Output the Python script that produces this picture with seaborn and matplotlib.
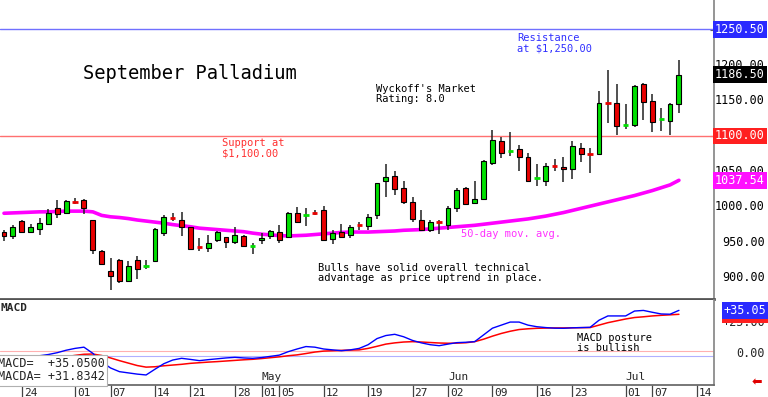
import matplotlib
matplotlib.use("Agg")
import matplotlib.pyplot as plt
import matplotlib.transforms as mtransforms
import pandas as pd
import seaborn as sns

# daily candles, Mar 20 .. Jul 10 (trading days only)
opens = [965, 959, 980, 965, 969, 976, 998, 991, 1008, 1010,
         981, 938, 910, 925, 896, 925, 915, 923, 963, 986,
         982, 971, 945, 942, 953, 957, 950, 959, 944, 953,
         959, 965, 958, 991, 987, 992, 995, 955, 964, 960,
         975, 973, 989, 1037, 1043, 1027, 1007, 982, 967, 980,
         975, 998, 1026, 1005, 1011, 1062, 1093, 1078, 1082, 1070,
         1040, 1037, 1059, 1056, 1054, 1083, 1076, 1074, 1148, 1147,
         1114, 1115, 1173, 1149, 1123, 1121, 1145]
highs = [967, 974, 981, 976, 985, 997, 1010, 1010, 1012, 1011,
         982, 939, 928, 927, 923, 931, 925, 970, 989, 992,
         993, 972, 956, 960, 966, 958, 971, 960, 949, 963,
         968, 975, 993, 1000, 998, 995, 1001, 967, 976, 975,
         978, 990, 1034, 1061, 1050, 1037, 1014, 996, 981, 981,
         1001, 1026, 1028, 1036, 1066, 1108, 1099, 1105, 1087, 1076,
         1060, 1062, 1068, 1070, 1093, 1090, 1083, 1164, 1193, 1173,
         1145, 1172, 1175, 1159, 1140, 1146, 1207]
lows = [952, 955, 963, 964, 961, 975, 984, 990, 1004, 990,
        933, 918, 883, 893, 894, 898, 912, 922, 959, 980,
        959, 940, 938, 937, 950, 942, 948, 944, 933, 947,
        954, 949, 957, 977, 973, 989, 953, 948, 956, 956,
        967, 967, 983, 1014, 1017, 1004, 979, 966, 965, 962,
        967, 993, 1003, 1005, 1010, 1059, 1069, 1072, 1051, 1035,
        1029, 1030, 1050, 1035, 1040, 1064, 1048, 1073, 1118, 1101,
        1110, 1113, 1122, 1105, 1107, 1101, 1133]
closes = [959, 971, 964, 972, 977, 992, 990, 1008, 1007, 999,
          939, 920, 902, 895, 917, 912, 916, 969, 986, 985,
          971, 941, 943, 949, 965, 951, 960, 945, 945, 956,
          966, 953, 991, 978, 988, 991, 953, 963, 958, 971,
          974, 986, 1033, 1042, 1025, 1007, 983, 967, 979, 978,
          998, 1024, 1004, 1011, 1065, 1094, 1076, 1079, 1071, 1036,
          1041, 1058, 1057, 1053, 1086, 1075, 1075, 1146, 1147, 1114,
          1115, 1171, 1148, 1120, 1124, 1145, 1186.5]
ma50 = [991, 991.5, 992, 992.5, 993, 993, 993.5, 994, 994, 994,
        993, 988, 986, 985, 983.5, 981.5, 980, 978.5, 977, 975,
        973.5, 972, 970, 969, 968, 967, 966, 965, 963, 961.5,
        960.5, 959.5, 959, 959.5, 960, 961, 962, 963, 964, 964.5,
        964.5, 964.5, 965, 965.5, 966, 967, 967.5, 968, 969, 970,
        971, 972, 973, 974, 975.5, 977, 978.5, 980, 981.5, 983,
        985, 987, 989.5, 992, 995, 998, 1001, 1004, 1007, 1010,
        1013, 1016, 1019.5, 1023, 1027, 1031, 1037.5]
macd = [-5, -4.5, -4, -3, -2, -1, 0.5, 2.5, 4, 5,
        0, -7, -12, -15, -16, -17, -17.7, -13, -8.5, -5.5,
        -4.1, -5, -6, -5.2, -4.5, -3.8, -3.3, -3.8, -4.1, -3.5,
        -2.5, -1.5, 1.3, 3.5, 5.5, 5, 3.5, 2.8, 2.1, 2.8,
        4, 7, 12, 14.5, 15.5, 13.5, 10.5, 8.5, 7, 6.2,
        7.5, 8.7, 9, 9.5, 15, 20.5, 23, 25.5, 25.5, 23,
        21.7, 21, 20.5, 20.4, 20.8, 21, 21.2, 27, 30.5, 30.5,
        30.5, 34.5, 35, 33.5, 32.1, 31.9, 35.05]
macda = [-9, -8, -7, -6.3, -5.6, -5, -4, -2.8, -1.7, -0.8,
         -0.6, -1.8, -3.8, -6, -8, -10, -11.3, -11, -10.2, -9.6,
         -9, -8.2, -7.7, -7.2, -6.8, -6.3, -5.8, -5.3, -4.9, -4.3,
         -3.6, -2.9, -2, -1.3, -0.2, 1, 1.8, 2.1, 2.4, 2.6,
         2.8, 4, 5.7, 7.5, 8.5, 9.2, 9.5, 9.2, 8.8, 8.4,
         8.2, 8.3, 8.6, 9.5, 11.5, 14, 16.2, 18, 19.4, 20,
         20.4, 20.6, 20.7, 20.7, 20.8, 20.9, 21, 23, 25, 26.5,
         28, 29.2, 29.8, 30.5, 31, 31.4, 31.83]

tick_idx = [2, 8, 12, 17, 21, 26, 29, 31, 36, 41, 46, 50, 55, 60, 64, 70, 73, 78]
tick_labels = ["24", "01", "07", "14", "21", "28", "01", "05", "12", "19",
               "27", "02", "09", "16", "23", "01", "07", "14"]
month_idx = [29, 50, 70]
month_labels = ["May", "Jun", "Jul"]
price_ticks = [900, 950, 1000, 1050, 1150, 1200]
resistance = 1250.50
support = 1100.00

df = pd.DataFrame({"day": range(len(closes)), "open": opens, "high": highs,
                   "low": lows, "close": closes, "ma50": ma50,
                   "macd": macd, "macda": macda})

sns.set_theme(style="white")
plt.rcParams["font.family"] = ["DejaVu Sans Mono", "DejaVu Sans"]

GREEN = "#00e000"
RED = "#e80000"

fig = plt.figure(figsize=(7.68, 3.97), dpi=100)
ax = fig.add_axes([0, 0.2469, 0.9297, 0.7531])
axm = fig.add_axes([0, 0.0302, 0.9297, 0.2141], sharex=ax)

# --- price panel ---
ax.axhline(resistance, color="#7070ff", lw=1, zorder=1)
ax.axhline(support, color="#ff7070", lw=1, zorder=1)
sns.lineplot(data=df, x="day", y="ma50", ax=ax, color="#ff00ff", lw=2.6, zorder=2)

ax.vlines(df["day"], df["low"], df["high"], color="#202020", lw=1.1, zorder=3)
doji = (df["close"] - df["open"]).abs() <= 2
up = df["close"] >= df["open"]
body = df[~doji]
ax.bar(body["day"], (body["close"] - body["open"]).abs(),
       bottom=body[["open", "close"]].min(axis=1), width=0.55,
       color=[GREEN if u else RED for u in up[~doji]],
       edgecolor="black", linewidth=0.8, zorder=4)
dj = df[doji]
ax.hlines(dj["close"], dj["day"] - 0.3, dj["day"] + 0.3,
          colors=[GREEN if u else RED for u in up[doji]], lw=2, zorder=4)

ax.set_xlim(-0.45, 79.95)
ax.set_ylim(870.1, 1291.8)
ax.set_xlabel("")
ax.set_ylabel("")
ax.yaxis.tick_right()
ax.set_yticks(price_ticks)
ax.set_yticklabels([])
ax.set_yticks([p + 25 for p in range(875, 1275, 50)], minor=True)
ax.tick_params(axis="y", which="major", length=0, right=False)
ax.tick_params(axis="y", which="minor", right=True, direction="in", length=3,
               color="#555555", width=0.8)
ax.tick_params(axis="x", bottom=False, labelbottom=False)
for s in ["top", "left"]:
    ax.spines[s].set_visible(False)
ax.spines["right"].set_color("#888888")
ax.spines["bottom"].set_color("#555555")
ax.spines["bottom"].set_linewidth(2)

yr = mtransforms.blended_transform_factory(ax.transAxes, ax.transData)
lab_x = 765 / 714
for p in price_ticks:
    ax.text(lab_x, p, f"{p:.2f}", transform=yr, ha="right", va="center",
            fontsize=8.5, color="black")
box_labels = [(resistance, "#2a2aff"), (closes[-1], "black"),
              (support, "#ff2020"), (ma50[-1] + 0.04, "#ff10ff")]
for val, col in box_labels:
    ax.text(lab_x, val, f"{val:.2f}", transform=yr, ha="right", va="center",
            fontsize=8.5, color="white", zorder=10,
            bbox=dict(boxstyle="square,pad=0.15", fc=col, ec="none"))

ax.text(83 / 714, 1100 + (136 - 74) / 0.709, "September Palladium",
        fontsize=13.5, ha="left", va="center", color="black")
small = dict(fontsize=7.5, ha="left", va="center", linespacing=1.05)
ax.text(376 / 714, 1100 + (136 - 94) / 0.709, "Wyckoff's Market\nRating: 8.0",
        color="black", **small)
ax.text(517 / 714, 1100 + (136 - 43) / 0.709, "Resistance\nat $1,250.00",
        color="#3030ff", **small)
ax.text(222 / 714, 1100 + (136 - 148) / 0.709, "Support at\n$1,100.00",
        color="#ff3030", **small)
ax.text(461 / 714, 1100 + (136 - 234) / 0.709, "50-day mov. avg.",
        color="#ff30ff", **small)
ax.text(318 / 714, 1100 + (136 - 273) / 0.709,
        "Bulls have solid overall technical\nadvantage as price uptrend in place.",
        color="black", **small)
for t in ax.texts:
    t.set_transform(yr)

# --- MACD panel ---
axm.axhline(1.9, color="#ffb0b0", lw=0.8, zorder=1)
axm.axhline(-2.2, color="#b0b0ff", lw=0.8, zorder=1)
sns.lineplot(data=df, x="day", y="macda", ax=axm, color="#ff0000", lw=1.1, zorder=2)
sns.lineplot(data=df, x="day", y="macd", ax=axm, color="#0000ff", lw=1.0, zorder=3)
axm.set_ylim(-25.9, 43.5)
axm.set_xlabel("")
axm.set_ylabel("")
axm.set_yticks([])
for s in ["top", "left"]:
    axm.spines[s].set_visible(False)
axm.spines["right"].set_color("#888888")
axm.spines["bottom"].set_color("#666666")

axm.set_xticks(tick_idx)
axm.set_xticklabels(tick_labels)
axm.tick_params(axis="x", bottom=True, direction="out", length=8.6, pad=-6.8,
                labelsize=8, color="#444444", width=0.9)
offset = mtransforms.ScaledTranslation(2 / 100, 0, fig.dpi_scale_trans)
for lbl in axm.get_xticklabels():
    lbl.set_ha("left")
    lbl.set_transform(lbl.get_transform() + offset)

xm = mtransforms.blended_transform_factory(axm.transData, axm.transAxes)
for i, m in zip(month_idx, month_labels):
    axm.text(i, 0.1, m, transform=xm, fontsize=8, ha="left", va="center")

ym = mtransforms.blended_transform_factory(axm.transAxes, axm.transData)
axm.text(lab_x, 25, "+25.00", transform=ym, ha="right", va="center", fontsize=8.5)
axm.text(lab_x, 0, "0.00", transform=ym, ha="right", va="center", fontsize=8.5)
axm.text(lab_x + 0.002, macda[-1], f"+{macda[-1]:.2f}", transform=ym, ha="right",
         va="center", fontsize=8.5, color="white", zorder=10,
         bbox=dict(boxstyle="square,pad=0.15", fc="#ff2020", ec="none"))
axm.text(lab_x + 0.002, macd[-1], f"+{macd[-1]:.2f}", transform=ym, ha="right",
         va="center", fontsize=8.5, color="white", zorder=11,
         bbox=dict(boxstyle="square,pad=0.15", fc="#2a2aff", ec="none"))

axm.text(0.001, 0.97, "MACD", transform=axm.transAxes, ha="left", va="top",
         fontsize=8, fontweight="bold")
axm.text(577 / 714, 8.5, "MACD posture\nis bullish", transform=ym,
         color="black", **small)
axm.text(-0.003, 0.02, f"MACD=  +{macd[-1]:.4f}\nMACDA= +31.8342",
         transform=axm.transAxes, ha="left", va="bottom", fontsize=8.5,
         linespacing=1.0, zorder=20,
         bbox=dict(boxstyle="square,pad=0.2", fc="white", ec="#b0b0b0", lw=0.8))

fig.text(757 / 768, 14 / 397, "\u2b05", color="#e00000", fontsize=9,
         ha="center", va="center", family=["DejaVu Sans"])

fig.savefig("out.png", dpi=100)
